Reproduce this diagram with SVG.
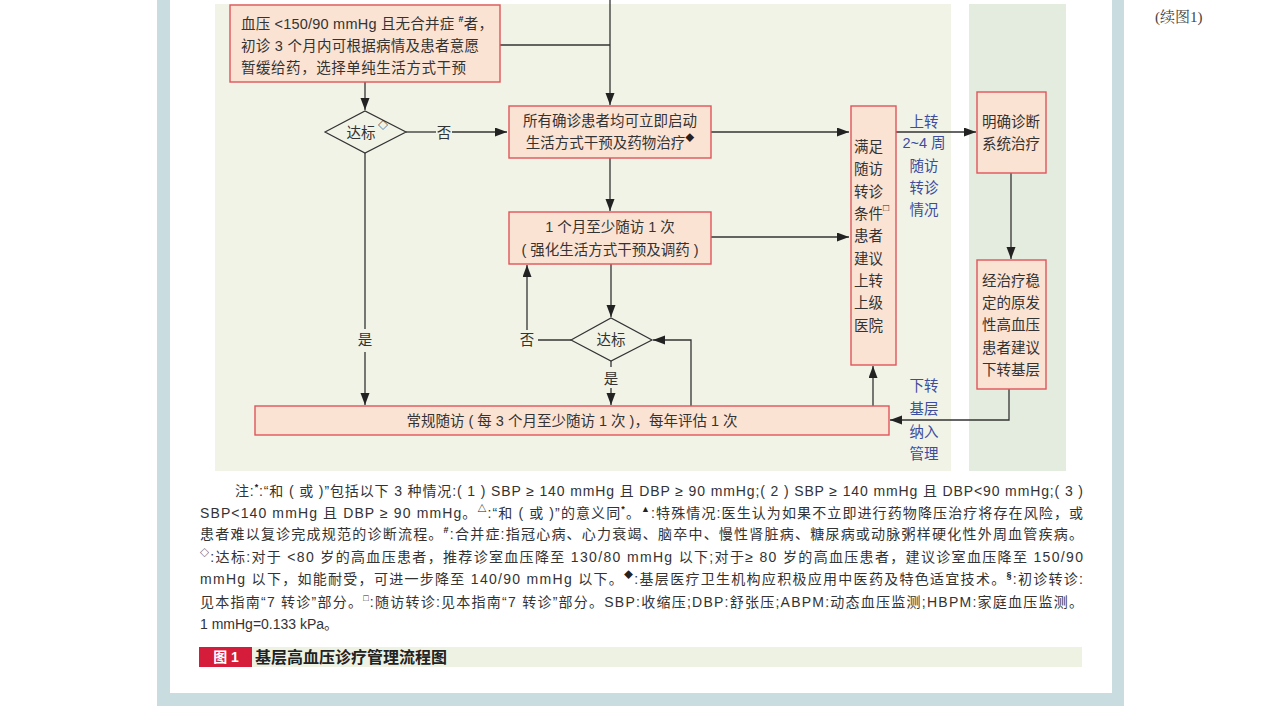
<svg xmlns="http://www.w3.org/2000/svg" width="1280" height="720" viewBox="0 0 1280 720">
<defs>
<marker id="ah" markerUnits="userSpaceOnUse" markerWidth="13" markerHeight="10" refX="12" refY="4.5" orient="auto">
<path d="M0,0 L12,4.5 L0,9 z" fill="#222"/>
</marker>
<style>
text{font-family:"Liberation Sans","Noto Sans CJK SC",sans-serif;fill:#333;}
.bx{fill:#fbe3d3;stroke:#e0545a;stroke-width:1.4;}
.dm{fill:none;stroke:#333;stroke-width:1.2;}
.t{font-size:14.5px;dominant-baseline:central;}
.c{text-anchor:middle;}
.bl{fill:#3d4c9c;}
.sup{font-size:9px;font-weight:bold;fill:#222;}
.ln{fill:none;stroke:#333;stroke-width:1.3;}
.ar{marker-end:url(#ah);}
.nt{font-size:14px;}
</style>
</defs>
<rect width="1280" height="720" fill="#fff"/>
<!-- frame -->
<rect x="157" y="0" width="967" height="706" fill="#c9dde0"/>
<rect x="170" y="0" width="942" height="693" fill="#fff"/>
<!-- panels -->
<rect x="215" y="4" width="736" height="467" fill="#f1f3e7"/>
<rect x="969" y="4" width="97" height="467" fill="#e4ecdf"/>
<text x="1155" y="22" style="font-family:'Liberation Serif','Noto Serif CJK SC','Noto Sans CJK SC',serif;font-size:15px;fill:#444">(续图1)</text>

<g id="connectors">
<path class="ln" d="M500,45 H610"/>
<path class="ln ar" d="M610,0 V105"/>
<path class="ln ar" d="M365,82 V110"/>
<path class="ln" d="M406,132 H436"/>
<path class="ln ar" d="M452,132 H507"/>
<text class="t c" x="444" y="133">否</text>
<path class="ln" d="M365,153 V329"/>
<path class="ln ar" d="M365,352 V405"/>
<text class="t c" x="365" y="340">是</text>
<path class="ln ar" d="M711,132 H849"/>
<path class="ln ar" d="M610,158 V211"/>
<path class="ln ar" d="M711,237 H849"/>
<path class="ln ar" d="M611,264 V317"/>
<path class="ln" d="M571,340 H538"/>
<text class="t c" x="527" y="340">否</text>
<path class="ln ar" d="M527,330 V265"/>
<path class="ln" d="M611,361 V367"/>
<text class="t c" x="611" y="379">是</text>
<path class="ln ar" d="M611,388 V405"/>
<path class="ln ar" d="M691,406 V340 H653"/>
<path class="ln ar" d="M873,406 V366"/>
<path class="ln ar" d="M896,132 H976"/>
<path class="ln ar" d="M1011,173 V259"/>
<path class="ln ar" d="M1009,389 V420 H890"/>
</g>

<g id="nodeA">
<rect class="bx" x="230" y="5" width="270" height="77"/>
<text class="t" x="241" y="24" textLength="252" lengthAdjust="spacing">血压 &lt;150/90 mmHg 且无合并症 <tspan class="sup" dy="-5">#</tspan><tspan dy="5">者，</tspan></text>
<text class="t" x="241" y="45.5" textLength="238" lengthAdjust="spacing">初诊 3 个月内可根据病情及患者意愿</text>
<text class="t" x="241" y="68" textLength="225" lengthAdjust="spacing">暂缓给药，选择单纯生活方式干预</text>
</g>

<g id="diamond1">
<polygon class="dm" points="325,132 365,111 406,132 365,153"/>
<text class="t c" x="361" y="133">达标</text>
<text x="378" y="129" style="font-size:10px;font-weight:bold;fill:#222">◇</text>
</g>

<g id="nodeB">
<rect class="bx" x="509" y="106" width="202" height="52"/>
<text class="t c" x="610" y="121">所有确诊患者均可立即启动</text>
<text class="t c" x="610" y="143">生活方式干预及药物治疗<tspan class="sup" dy="-5">◆</tspan></text>
</g>

<g id="nodeD">
<rect class="bx" x="509" y="212" width="202" height="52"/>
<text class="t c" x="610" y="227">1 个月至少随访 1 次</text>
<text class="t c" x="610" y="250">( 强化生活方式干预及调药 )</text>
</g>

<g id="diamond2">
<polygon class="dm" points="571,340 611,318 652,340 611,361"/>
<text class="t c" x="611" y="340">达标</text>
</g>

<g id="nodeE">
<rect class="bx" x="255" y="406" width="634" height="29"/>
<text class="t c" x="572" y="421">常规随访 ( 每 3 个月至少随访 1 次 )，每年评估 1 次</text>
</g>

<g id="nodeC">
<rect class="bx" x="851" y="106" width="45" height="259"/>
<text class="t" x="854" y="147">满足</text>
<text class="t" x="854" y="169">随访</text>
<text class="t" x="854" y="191.5">转诊</text>
<text class="t" x="854" y="214">条件</text>
<text x="883" y="211" style="font-size:10px;font-weight:bold;fill:#222">□</text>
<text class="t" x="854" y="236">患者</text>
<text class="t" x="854" y="258.5">建议</text>
<text class="t" x="854" y="281">上转</text>
<text class="t" x="854" y="303">上级</text>
<text class="t" x="854" y="325.5">医院</text>
</g>

<g id="labelUp">
<text class="t c bl" x="924" y="121.5">上转</text>
<text class="t c bl" x="924" y="143">2~4 周</text>
<text class="t c bl" x="924" y="166">随访</text>
<text class="t c bl" x="924" y="188">转诊</text>
<text class="t c bl" x="924" y="210">情况</text>
</g>
<g id="labelDown">
<text class="t c bl" x="924" y="386">下转</text>
<text class="t c bl" x="924" y="408.5">基层</text>
<text class="t c bl" x="924" y="431.5">纳入</text>
<text class="t c bl" x="924" y="454">管理</text>
</g>

<g id="nodeF">
<rect class="bx" x="977" y="92" width="69" height="81"/>
<text class="t c" x="1011" y="122">明确诊断</text>
<text class="t c" x="1011" y="144">系统治疗</text>
</g>

<g id="nodeG">
<rect class="bx" x="977" y="260" width="69" height="129"/>
<text class="t c" x="1011" y="281">经治疗稳</text>
<text class="t c" x="1011" y="303">定的原发</text>
<text class="t c" x="1011" y="325">性高血压</text>
<text class="t c" x="1011" y="347.5">患者建议</text>
<text class="t c" x="1011" y="369.5">下转基层</text>
</g>

<g id="notes">
<text class="nt" x="235" y="496" textLength="848" lengthAdjust="spacing">注:<tspan class="sup" dy="-6">*</tspan><tspan dy="6">:“和 ( 或 )”包括以下 3 种情况:( 1 ) SBP ≥ 140 mmHg 且 DBP ≥ 90 mmHg;( 2 ) SBP ≥ 140 mmHg 且 DBP&lt;90 mmHg;( 3 )</tspan></text>
<text class="nt" x="200" y="517.5" textLength="883" lengthAdjust="spacing">SBP&lt;140 mmHg 且 DBP ≥ 90 mmHg。<tspan class="sup" dy="-6">△</tspan><tspan dy="6">:“和 ( 或 )”的意义同</tspan><tspan class="sup" dy="-6">*</tspan><tspan dy="6">。</tspan><tspan class="sup" dy="-6">▲</tspan><tspan dy="6">:特殊情况:医生认为如果不立即进行药物降压治疗将存在风险，或</tspan></text>
<text class="nt" x="200" y="539" textLength="883" lengthAdjust="spacing">患者难以复诊完成规范的诊断流程。<tspan class="sup" dy="-6">#</tspan><tspan dy="6">:合并症:指冠心病、心力衰竭、脑卒中、慢性肾脏病、糖尿病或动脉粥样硬化性外周血管疾病。</tspan></text>
<text class="nt" x="200" y="561.5" textLength="883" lengthAdjust="spacing"><tspan class="sup" dy="-6">◇</tspan><tspan dy="6">:达标:对于 &lt;80 岁的高血压患者，推荐诊室血压降至 130/80 mmHg 以下;对于≥ 80 岁的高血压患者，建议诊室血压降至 150/90</tspan></text>
<text class="nt" x="200" y="584" textLength="883" lengthAdjust="spacing">mmHg 以下，如能耐受，可进一步降至 140/90 mmHg 以下。<tspan class="sup" dy="-6">◆</tspan><tspan dy="6">:基层医疗卫生机构应积极应用中医药及特色适宜技术。</tspan><tspan class="sup" dy="-6">§</tspan><tspan dy="6">:初诊转诊:</tspan></text>
<text class="nt" x="200" y="606.5" textLength="883" lengthAdjust="spacing">见本指南“7 转诊”部分。<tspan class="sup" dy="-6">□</tspan><tspan dy="6">:随访转诊:见本指南“7 转诊”部分。SBP:收缩压;DBP:舒张压;ABPM:动态血压监测;HBPM:家庭血压监测。</tspan></text>
<text class="nt" x="200" y="629">1 mmHg=0.133 kPa。</text>
</g>

<g id="caption">
<rect x="252" y="647" width="830" height="20" fill="#eef2e3"/>
<rect x="199" y="647" width="53" height="20" fill="#d51d3b"/>
<text x="226" y="662" text-anchor="middle" style="font-size:14px;font-weight:bold;fill:#fff">图 1</text>
<text x="255" y="663" style="font-size:16px;font-weight:bold;fill:#222">基层高血压诊疗管理流程图</text>
</g>
</svg>
